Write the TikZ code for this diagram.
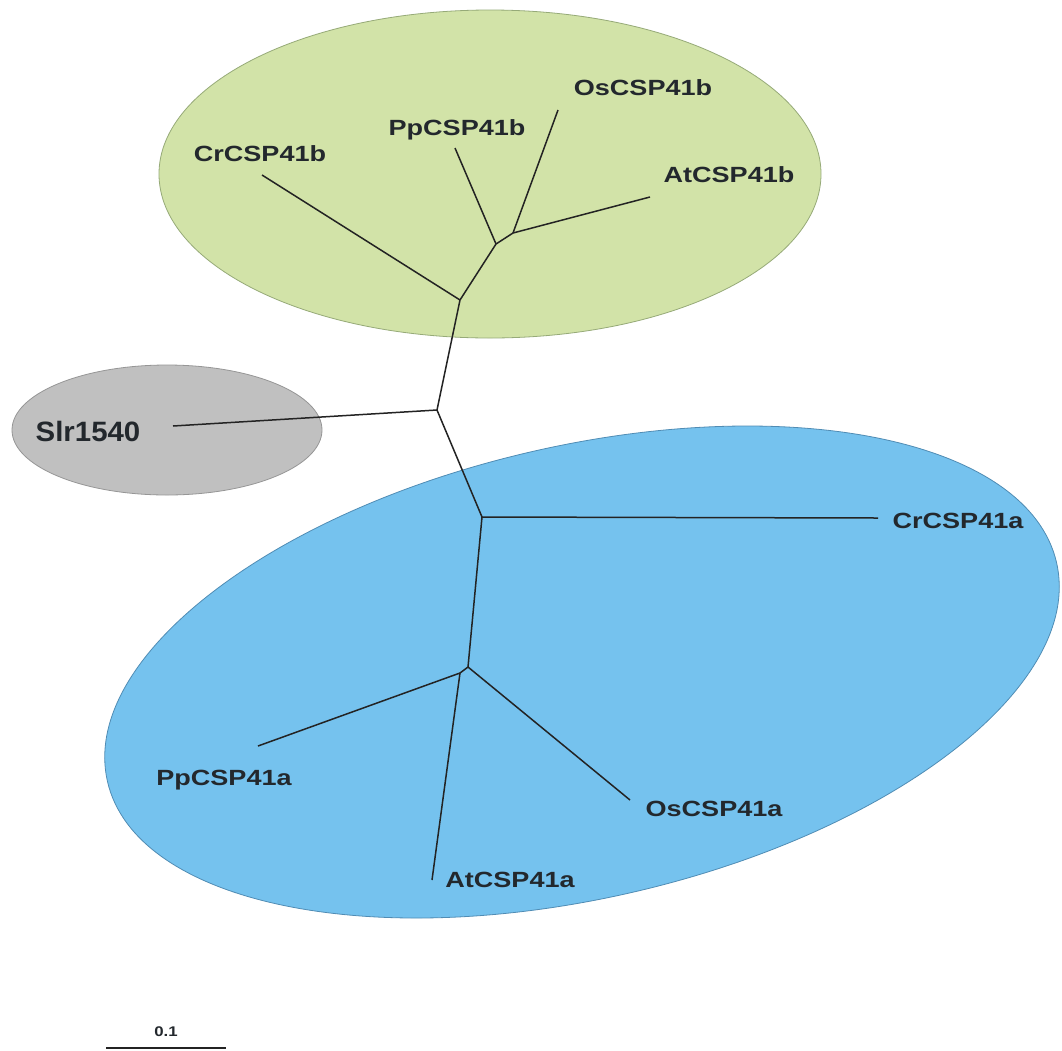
\documentclass[tikz,border=0pt]{standalone}
\usepackage{fontspec}
\setmainfont{Liberation Sans}
\usepackage{graphicx}
\definecolor{greenfill}{RGB}{210,227,168}
\definecolor{greenline}{RGB}{150,170,120}
\definecolor{grayfill}{RGB}{192,192,192}
\definecolor{grayline}{RGB}{150,150,150}
\definecolor{bluefill}{RGB}{117,194,238}
\definecolor{blueline}{RGB}{80,140,180}
\definecolor{txt}{RGB}{35,40,45}
\definecolor{branch}{RGB}{35,35,35}
\newcommand{\lbl}[1]{\scalebox{1.23}[1]{\fontsize{22}{26}\selectfont\bfseries #1}}
\newcommand{\biglbl}[1]{\scalebox{1.05}[1]{\fontsize{28}{32}\selectfont\bfseries #1}}
\newcommand{\smalllbl}[1]{\scalebox{1.2}[1]{\fontsize{14}{16}\selectfont\bfseries #1}}
\begin{document}
\begin{tikzpicture}[x=1pt,y=-1pt,
  lab/.style={inner sep=0pt, anchor=base, text=txt},
  br/.style={draw=branch, line width=1.5pt},
  blob/.style={line width=0.8pt}]
\fill[white] (0,0) rectangle (1062,1050);
\useasboundingbox (0,0) rectangle (1062,1050);
% clusters
\filldraw[blob, fill=greenfill, draw=greenline] (490,174) ellipse [x radius=331, y radius=164];
\filldraw[blob, fill=grayfill, draw=grayline] (167,430) ellipse [x radius=155, y radius=65];
\begin{scope}[shift={(582,672)}, rotate=13]
\filldraw[blob, fill=bluefill, draw=blueline] (0,0) ellipse [x radius=487, y radius=226];
\end{scope}
% internal nodes
\coordinate (R) at (437,410);
\coordinate (G) at (460,300);
\coordinate (H) at (496,244);
\coordinate (I) at (513,233);
\coordinate (B) at (482,517);
\coordinate (C) at (468,667);
\coordinate (D) at (460,673);
% leaf ends
\coordinate (lCrb) at (262,175);
\coordinate (lPpb) at (455,148);
\coordinate (lOsb) at (558,110);
\coordinate (lAtb) at (650,197);
\coordinate (lSlr) at (173,426);
\coordinate (lCra) at (878,518);
\coordinate (lPpa) at (258,746);
\coordinate (lAta) at (432,880);
\coordinate (lOsa) at (630,800);
\coordinate (s1) at (106,1048);
\coordinate (s2) at (226,1048);
% branches
\draw[br] (R) -- (G);
\draw[br] (G) -- (lCrb);
\draw[br] (G) -- (H);
\draw[br] (H) -- (lPpb);
\draw[br] (H) -- (I);
\draw[br] (I) -- (lOsb);
\draw[br] (I) -- (lAtb);
\draw[br] (R) -- (lSlr);
\draw[br] (R) -- (B);
\draw[br] (B) -- (lCra);
\draw[br] (B) -- (C);
\draw[br] (C) -- (D);
\draw[br] (D) -- (lPpa);
\draw[br] (D) -- (lAta);
\draw[br] (C) -- (lOsa);
\draw[br] (s1) -- (s2);
% labels
\node[lab] (tCrb) at (260,161) {\lbl{CrCSP41b}};
\node[lab] (tPpb) at (457,135) {\lbl{PpCSP41b}};
\node[lab] (tOsb) at (643,95) {\lbl{OsCSP41b}};
\node[lab] (tAtb) at (729,182) {\lbl{AtCSP41b}};
\node[lab] (tSlr) at (88,441) {\biglbl{Slr1540}};
\node[lab] (tCra) at (958,528) {\lbl{CrCSP41a}};
\node[lab] (tPpa) at (224,785) {\lbl{PpCSP41a}};
\node[lab] (tOsa) at (714,816) {\lbl{OsCSP41a}};
\node[lab] (tAta) at (510,887) {\lbl{AtCSP41a}};
\node[lab] (tscale) at (166,1036) {\smalllbl{0.1}};
\end{tikzpicture}
\end{document}
